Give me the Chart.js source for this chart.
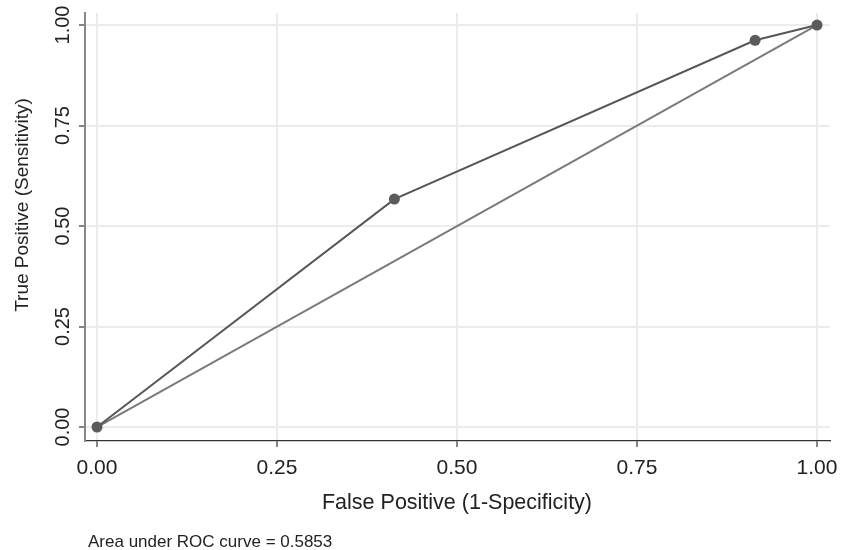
<!DOCTYPE html>
<html>
<head>
<meta charset="utf-8">
<script src="https://cdn.jsdelivr.net/npm/chart.js@4/dist/chart.umd.min.js"></script>
<style>
  html, body { margin: 0; padding: 0; background: #fff; }
  #wrap { width: 844px; height: 550px; position: relative; }
</style>
</head>
<body>
<div id="wrap"><canvas id="roc" width="844" height="550"></canvas></div>
<script>
// ROC curve values
const falsePositive = [0, 0.413, 0.914, 1]
const truePositive = [0, 0.567, 0.962, 1]
const diagonalX = [0, 1]
const diagonalY = [0, 1]
const tickValues = [0, 0.25, 0.5, 0.75, 1]
const xTitle = "False Positive (1-Specificity)"
const yTitle = "True Positive (Sensitivity)"
const footnote = "Area under ROC curve = 0.5853"

const FONT = "'Liberation Sans', Arial, Helvetica, sans-serif"

const toPoints = (xs, ys) => xs.map((x, i) => ({ x: x, y: ys[i] }))

// Draws rotated y tick labels, axis titles and the footnote
const textPlugin = {
    id: "stataText",
    afterDraw(chart) {
        const ctx = chart.ctx
        const ys = chart.scales.y
        ctx.save()
        ctx.fillStyle = "#222"
        ctx.textAlign = "center"
        ctx.textBaseline = "middle"

        //y tick labels, rotated
        ctx.font = "20px " + FONT
        for (let v of tickValues) {
            ctx.save()
            ctx.translate(63, ys.getPixelForValue(v))
            ctx.rotate(-Math.PI / 2)
            ctx.fillText(v.toFixed(2), 0, 0)
            ctx.restore()
        }

        //y title
        ctx.font = "19px " + FONT
        ctx.save()
        ctx.translate(23, 205)
        ctx.rotate(-Math.PI / 2)
        ctx.fillText(yTitle, 0, 0)
        ctx.restore()

        //x title
        ctx.font = "21.5px " + FONT
        ctx.fillText(xTitle, 457, 503)

        //footnote
        ctx.font = "17px " + FONT
        ctx.textAlign = "left"
        ctx.textBaseline = "alphabetic"
        ctx.fillText(footnote, 88, 547)
        ctx.restore()
    }
}

const ctx = document.getElementById("roc").getContext("2d")
new Chart(ctx, {
    type: "scatter",
    data: {
        datasets: [
            {
                label: "ROC",
                data: toPoints(falsePositive, truePositive),
                showLine: true,
                borderColor: "#575757",
                borderWidth: 2,
                pointRadius: 5.5,
                pointBackgroundColor: "#5b5b5b",
                pointBorderColor: "#5b5b5b",
                pointBorderWidth: 0
            },
            {
                label: "Reference",
                data: toPoints(diagonalX, diagonalY),
                showLine: true,
                borderColor: "#7a7a7a",
                borderWidth: 2,
                pointRadius: 0
            }
        ]
    },
    options: {
        responsive: false,
        animation: false,
        devicePixelRatio: 1,
        layout: { padding: { top: 13, right: 14, left: 0, bottom: 0 } },
        plugins: {
            legend: { display: false },
            tooltip: { enabled: false }
        },
        scales: {
            x: {
                type: "linear",
                min: -0.0167,
                max: 1.018,
                afterBuildTicks: (scale) => { scale.ticks = tickValues.map(v => ({ value: v })) },
                afterFit: (scale) => {
                    scale.height = 109
                    scale.paddingLeft = 0
                    scale.paddingRight = 0
                },
                ticks: {
                    autoSkip: false,
                    maxRotation: 0,
                    padding: 9,
                    color: "#222",
                    font: { family: FONT, size: 21 },
                    callback: (v) => Number(v).toFixed(2)
                },
                grid: {
                    color: "#ececec",
                    lineWidth: 2,
                    tickColor: "#333",
                    tickLength: 6,
                    tickWidth: 1.2
                },
                border: { color: "#333", width: 1.3 }
            },
            y: {
                type: "linear",
                min: -0.0348,
                max: 1.0299,
                afterBuildTicks: (scale) => { scale.ticks = tickValues.map(v => ({ value: v })) },
                afterFit: (scale) => {
                    scale.width = 85
                    scale.paddingTop = 0
                    scale.paddingBottom = 0
                },
                ticks: { display: false },
                grid: {
                    color: "#ececec",
                    lineWidth: 2,
                    tickColor: "#333",
                    tickLength: 6,
                    tickWidth: 1.2
                },
                border: { color: "#888", width: 2 }
            }
        }
    },
    plugins: [textPlugin]
})
</script>
</body>
</html>
